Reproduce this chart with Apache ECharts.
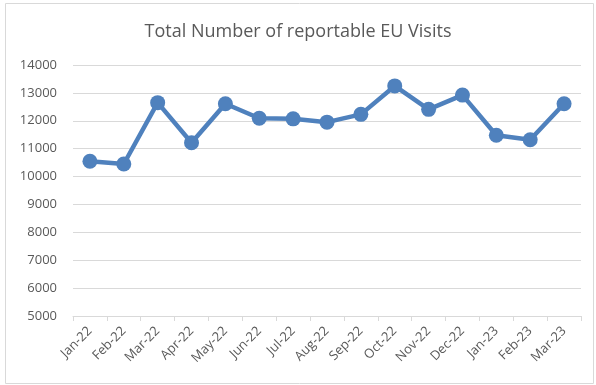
<!DOCTYPE html>
<html><head><meta charset="utf-8">
<script src="https://cdn.jsdelivr.net/npm/echarts@6/dist/echarts.min.js"></script>
<style>html,body{margin:0;padding:0;background:#fff}#c{width:596px;height:385px}</style>
</head><body><div id="c"></div>
<script>
const categories = ["Jan-22","Feb-22","Mar-22","Apr-22","May-22","Jun-22","Jul-22","Aug-22","Sep-22","Oct-22","Nov-22","Dec-22","Jan-23","Feb-23","Mar-23"];
const visits = [10550,10450,12650,11210,12610,12090,12070,11950,12230,13250,12410,12920,11480,11320,12610];
const yMin = 5000, yMax = 14000, yStep = 1000;
const chart = echarts.init(document.getElementById('c'));
chart.setOption({
  animation:false,
  graphic:[{type:'rect',shape:{x:5.5,y:3.5,width:588,height:380},style:{fill:'none',stroke:'#d9d9d9',lineWidth:1}}],
  title:{text:'Total Number of reportable EU Visits',left:'center',top:18,
    textStyle:{fontFamily:'Open Sans',fontWeight:'normal',fontSize:18,color:'#595959'}},
  grid:{left:73,right:15,top:65,bottom:69,containLabel:false},
  xAxis:{type:'category',data:categories,boundaryGap:true,
    axisLine:{lineStyle:{color:'#d9d9d9',width:1}},
    axisTick:{show:true,lineStyle:{color:'#d9d9d9'},length:5},
    axisLabel:{rotate:45,color:'#595959',fontFamily:'Open Sans',fontSize:13,margin:13,interval:0}},
  yAxis:{type:'value',min:yMin,max:yMax,interval:yStep,
    axisLine:{show:false},axisTick:{show:false},
    splitLine:{lineStyle:{color:'#d9d9d9',width:1}},
    axisLabel:{color:'#595959',fontFamily:'Open Sans',fontSize:13,margin:16,formatter:function(v){return String(v);}}},
  series:[{type:'line',data:visits,symbol:'circle',symbolSize:15,
    lineStyle:{color:'#4F81BD',width:4.5},itemStyle:{color:'#4F81BD'}}]
});
</script></body></html>
